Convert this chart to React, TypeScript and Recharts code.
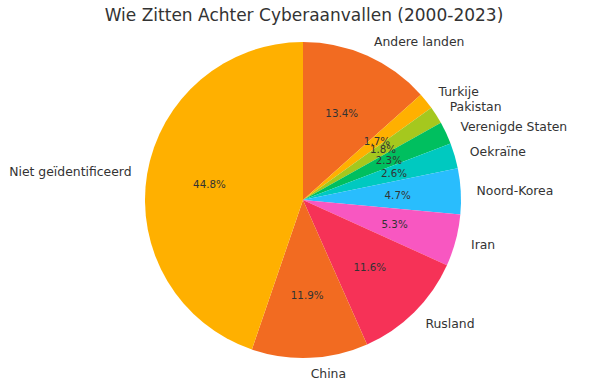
import { Pie, PieChart, Cell } from 'recharts';

const countries = [
  'Andere landen',
  'Turkije',
  'Pakistan',
  'Verenigde Staten',
  'Oekraïne',
  'Noord-Korea',
  'Iran',
  'Rusland',
  'China',
  'Niet geïdentificeerd',
];
const shares = [13.4, 1.7, 1.8, 2.3, 2.6, 4.7, 5.3, 11.6, 11.9, 44.8];
const colors = [
  '#F26B21',
  '#FFB000',
  '#A5C81E',
  '#00BF5F',
  '#00C9C0',
  '#29BDFD',
  '#F857C1',
  '#F63257',
  '#F26B21',
  '#FFB000',
];

const data = countries.map((name, i) => ({ name, value: shares[i] }));

const RAD = Math.PI / 180;

function renderLabel(props: any) {
  const { cx, cy, midAngle, outerRadius, name, value } = props;
  const cos = Math.cos(-midAngle * RAD);
  const sin = Math.sin(-midAngle * RAD);
  const lx = cx + outerRadius * 1.1 * cos;
  const ly = cy + outerRadius * 1.1 * sin;
  const px = cx + outerRadius * 0.6 * cos;
  const py = cy + outerRadius * 0.6 * sin;
  return (
    <g>
      <text
        x={lx}
        y={ly}
        fill="#333333"
        fontSize={12.4}
        textAnchor={cos >= 0 ? 'start' : 'end'}
        dominantBaseline="central"
      >
        {name}
      </text>
      <text
        x={px}
        y={py}
        fill="#333333"
        fontSize={10.3}
        textAnchor="middle"
        dominantBaseline="central"
      >
        {value.toFixed(1)}%
      </text>
    </g>
  );
}

export default function App() {
  return (
    <div style={{ position: 'absolute', left: 0, top: 0, fontFamily: '"DejaVu Sans", sans-serif' }}>
      <PieChart width={602} height={388} margin={{ top: 0, right: 0, bottom: 0, left: 0 }}>
        <text x={304} y={15} textAnchor="middle" dominantBaseline="central" fontSize={17} fill="#333333">
          Wie Zitten Achter Cyberaanvallen (2000-2023)
        </text>
        <Pie
          data={data}
          dataKey="value"
          nameKey="name"
          cx={303}
          cy={200}
          outerRadius={158}
          startAngle={90}
          endAngle={-270}
          stroke="none"
          label={renderLabel}
          labelLine={false}
          isAnimationActive={false}
        >
          {data.map((d, i) => (
            <Cell key={d.name} fill={colors[i]} />
          ))}
        </Pie>
      </PieChart>
    </div>
  );
}
